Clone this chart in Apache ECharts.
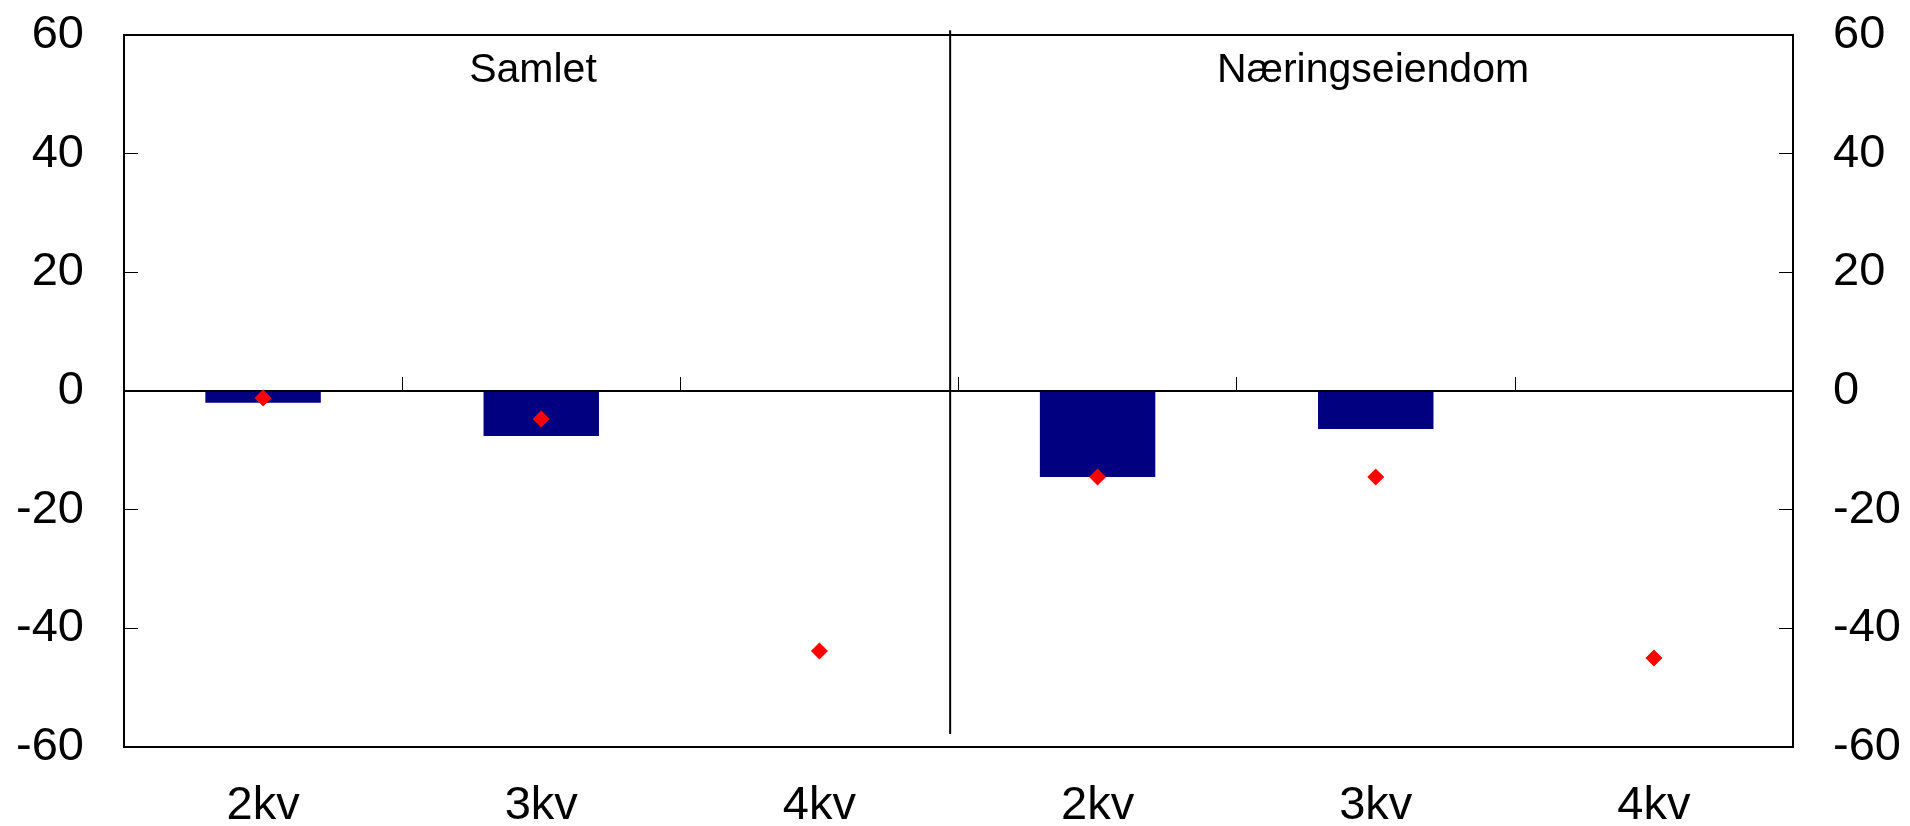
<!DOCTYPE html>
<html>
<head>
<meta charset="utf-8">
<script src="https://cdn.jsdelivr.net/npm/echarts@6/dist/echarts.min.js"></script>
<style>
html,body{margin:0;padding:0;background:#fff;}
#c{width:1910px;height:826px;}
</style>
</head>
<body>
<div id="c"></div>
<script>
var categories = ['2kv', '3kv', '4kv', '2kv', '3kv', '4kv'];
var panelTitles = ['Samlet', 'Næringseiendom'];
var barValues = [-2.0, -7.6, null, -14.5, -6.4, null];
var markerValues = [-1.2, -4.7, -43.8, -14.5, -14.5, -45.0];
var yMin = -60, yMax = 60, yInterval = 20;
var dividerPoints = [[2.97, 60.8], [2.97, -57.8]];

var FONT = '"Liberation Sans", Arial, Helvetica, sans-serif';
var chart = echarts.init(document.getElementById('c'), null, {renderer: 'canvas'});

var yAxisCommon = {
  type: 'value', min: yMin, max: yMax, interval: yInterval,
  axisLine: {show: true, lineStyle: {color: '#000', width: 2}},
  axisTick: {show: true, inside: true, length: 14, lineStyle: {color: '#000', width: 1}},
  splitLine: {show: false},
  axisLabel: {color: '#000', fontSize: 47, fontFamily: FONT, margin: 40}
};

chart.setOption({
  animation: false,
  backgroundColor: '#fff',
  grid: {left: 124, right: 117, top: 35, bottom: 79, containLabel: false, outerBoundsMode: 'none',
         show: true, borderColor: '#000', borderWidth: 2, backgroundColor: 'transparent'},
  title: [
    {text: panelTitles[0], left: 528, top: 45, textAlign: 'center',
     textStyle: {fontSize: 41, fontWeight: 'normal', color: '#000', fontFamily: FONT}},
    {text: panelTitles[1], left: 1368, top: 45, textAlign: 'center',
     textStyle: {fontSize: 41, fontWeight: 'normal', color: '#000', fontFamily: FONT}}
  ],
  xAxis: [
    {type: 'category', data: categories, position: 'bottom',
     axisLine: {show: true, lineStyle: {color: '#000', width: 2}},
     axisTick: {show: true, inside: true, length: 14, interval: 0, lineStyle: {color: '#000', width: 1}},
     axisLabel: {color: '#000', fontSize: 47, fontFamily: FONT, margin: 36, interval: 0},
     splitLine: {show: false}},
    {type: 'value', min: 0, max: 6, show: false}
  ],
  yAxis: [
    Object.assign({}, yAxisCommon, {position: 'left'}),
    Object.assign({}, yAxisCommon, {position: 'right'})
  ],
  series: [
    {type: 'bar', data: barValues, xAxisIndex: 0, yAxisIndex: 0, barWidth: '41.5%',
     itemStyle: {color: '#000080'},
     markLine: {silent: true, symbol: ['none', 'none'], label: {show: false},
       lineStyle: {color: '#000', width: 1.5, type: 'solid'},
       data: [{yAxis: 0}]}},
    {type: 'scatter', data: markerValues, xAxisIndex: 0, yAxisIndex: 0,
     symbol: 'diamond', symbolSize: 17, itemStyle: {color: '#ff0000', opacity: 1}, z: 5},
    {type: 'line', data: dividerPoints, xAxisIndex: 1, yAxisIndex: 0, clip: false,
     showSymbol: false, symbol: 'none', silent: true, z: 4,
     lineStyle: {color: '#000', width: 2, type: 'solid'}}
  ]
});
</script>
</body>
</html>
